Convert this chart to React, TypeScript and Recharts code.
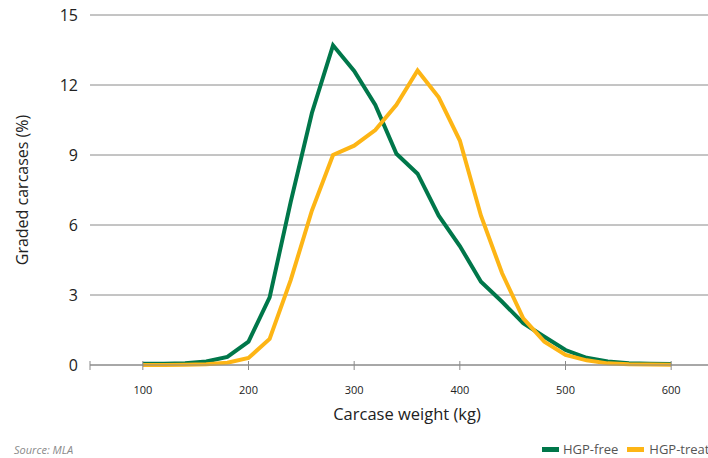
import React from 'react';
import { LineChart, Line, XAxis, YAxis, CartesianGrid, Label } from 'recharts';

const weights = [100, 120, 140, 160, 180, 200, 220, 240, 260, 280, 300, 320, 340, 360, 380, 400, 420, 440, 460, 480, 500, 520, 540, 560, 580, 600];
const hgpFree = [0.05, 0.05, 0.07, 0.15, 0.35, 1.0, 2.9, 7.0, 10.8, 13.7, 12.6, 11.15, 9.05, 8.2, 6.4, 5.1, 3.57, 2.71, 1.79, 1.21, 0.64, 0.31, 0.15, 0.08, 0.05, 0.04];
const hgpTreated = [0.0, 0.0, 0.01, 0.03, 0.1, 0.3, 1.12, 3.65, 6.62, 9.0, 9.4, 10.07, 11.15, 12.62, 11.47, 9.62, 6.4, 3.93, 2.0, 1.0, 0.43, 0.2, 0.07, 0.03, 0.02, 0.01];
const xTicks = [50, 100, 200, 300, 400, 500, 600, 650];
const yTicks = [0, 3, 6, 9, 12, 15];

const GREEN = '#00774A';
const YELLOW = '#FDB515';
const FONT = '"Open Sans", "Noto Sans", sans-serif';

const data = weights.map((w, i) => ({ w, free: hgpFree[i], treated: hgpTreated[i] }));

const XTick = (props: any) => {
  const { x, y, payload } = props;
  const v = payload.value;
  return (
    <g>
      <line x1={x} x2={x} y1={y - 4} y2={y + 5} stroke="#8a8a8a" strokeWidth={1} />
      {v >= 100 && v <= 600 ? (
        <text x={x} y={y + 24} textAnchor="middle" dominantBaseline="central" fontSize={11} fill="#222" fontFamily={FONT}>
          {v}
        </text>
      ) : null}
    </g>
  );
};

export default function App() {
  return (
    <div style={{ position: 'fixed', left: 0, top: 0, width: 708, height: 458, overflow: 'hidden', background: '#fff' }}>
      <LineChart width={760} height={458} data={data} margin={{ top: 15, right: 36, left: 0, bottom: 33 }}>
        <CartesianGrid vertical={false} stroke="#8a8a8a" strokeWidth={1} />
        <XAxis
          dataKey="w"
          type="number"
          domain={[50, 650]}
          ticks={xTicks}
          interval={0}
          height={60}
          tickSize={0}
          tickMargin={0}
          tickLine={false}
          axisLine={{ stroke: '#8a8a8a' }}
          tick={<XTick />}
        >
          <Label
            content={(p: any) => {
              const vb = p.viewBox;
              return (
                <text x={vb.x + vb.width / 2} y={413} textAnchor="middle" dominantBaseline="central" fontSize={16.5} fill="#222" fontFamily={FONT}>
                  Carcase weight (kg)
                </text>
              );
            }}
          />
        </XAxis>
        <YAxis
          type="number"
          domain={[0, 15]}
          ticks={yTicks}
          width={90}
          axisLine={false}
          tickLine={false}
          tickSize={0}
          tickMargin={12}
          tick={{ fontSize: 16, fill: '#222', fontFamily: FONT }}
        >
          <Label
            content={() => (
              <text x={22} y={190} transform="rotate(-90, 22, 190)" textAnchor="middle" dominantBaseline="central" fontSize={16} fill="#222" fontFamily={FONT}>
                Graded carcases (%)
              </text>
            )}
          />
        </YAxis>
        <Line dataKey="free" stroke={GREEN} strokeWidth={4} dot={false} isAnimationActive={false} strokeLinejoin="miter" />
        <Line dataKey="treated" stroke={YELLOW} strokeWidth={4} dot={false} isAnimationActive={false} strokeLinejoin="miter" />
      </LineChart>
      <div style={{ position: 'absolute', left: 14, top: 442, fontSize: 11, fontStyle: 'italic', color: '#8a8a8a', fontFamily: FONT, whiteSpace: 'nowrap', lineHeight: '16px' }}>
        Source: MLA
      </div>
      <div style={{ position: 'absolute', left: 542, top: 441, height: 16, display: 'flex', alignItems: 'center', fontSize: 13, color: '#555', fontFamily: FONT, whiteSpace: 'nowrap' }}>
        <span style={{ display: 'inline-block', width: 17, height: 5, background: GREEN, marginRight: 4 }} />
        <span>HGP-free</span>
        <span style={{ display: 'inline-block', width: 17, height: 5, background: YELLOW, marginLeft: 9, marginRight: 5 }} />
        <span>HGP-treated</span>
      </div>
    </div>
  );
}
